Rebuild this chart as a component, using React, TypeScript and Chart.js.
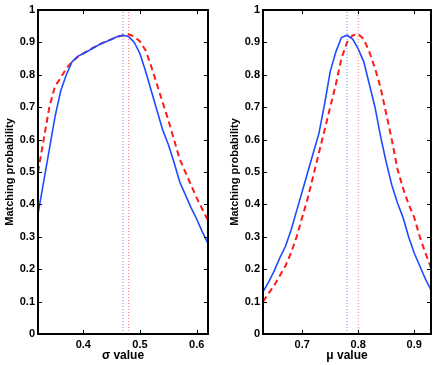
import React, { useEffect, useRef } from "react";
import { Chart, registerables } from "chart.js";
Chart.register(...registerables);

// ---- Data ----
const sigmaValues = [0.32, 0.33, 0.34, 0.35, 0.36, 0.37, 0.38, 0.39, 0.40, 0.41, 0.42, 0.43, 0.44, 0.45, 0.46, 0.47, 0.48, 0.49, 0.50, 0.51, 0.52, 0.53, 0.54, 0.55, 0.56, 0.57, 0.58, 0.59, 0.60, 0.61, 0.62];
const sigmaBlue = [0.37, 0.47, 0.57, 0.67, 0.75, 0.80, 0.84, 0.857, 0.866, 0.875, 0.885, 0.895, 0.902, 0.91, 0.918, 0.922, 0.918, 0.90, 0.865, 0.81, 0.75, 0.69, 0.63, 0.585, 0.53, 0.47, 0.43, 0.39, 0.355, 0.315, 0.28];
const sigmaRed = [0.50, 0.60, 0.70, 0.765, 0.79, 0.82, 0.84, 0.855, 0.866, 0.876, 0.886, 0.895, 0.903, 0.91, 0.917, 0.922, 0.925, 0.918, 0.903, 0.875, 0.825, 0.77, 0.715, 0.66, 0.60, 0.54, 0.50, 0.46, 0.42, 0.385, 0.35];
const sigmaPeakBlue = 0.47;
const sigmaPeakRed = 0.48;

const muValues = [0.63, 0.64, 0.65, 0.66, 0.67, 0.68, 0.69, 0.70, 0.71, 0.72, 0.73, 0.74, 0.75, 0.76, 0.77, 0.78, 0.79, 0.80, 0.81, 0.82, 0.83, 0.84, 0.85, 0.86, 0.87, 0.88, 0.89, 0.90, 0.91, 0.92, 0.93];
const muBlue = [0.13, 0.16, 0.195, 0.235, 0.27, 0.32, 0.38, 0.44, 0.50, 0.56, 0.62, 0.71, 0.81, 0.87, 0.915, 0.922, 0.91, 0.88, 0.84, 0.77, 0.70, 0.61, 0.53, 0.46, 0.405, 0.36, 0.30, 0.25, 0.21, 0.17, 0.135];
const muRed = [0.10, 0.125, 0.15, 0.18, 0.21, 0.25, 0.30, 0.36, 0.42, 0.49, 0.56, 0.63, 0.70, 0.77, 0.85, 0.90, 0.922, 0.926, 0.91, 0.87, 0.82, 0.76, 0.68, 0.60, 0.51, 0.45, 0.40, 0.36, 0.30, 0.25, 0.205];
const muPeakBlue = 0.78;
const muPeakRed = 0.80;

const yTicks = [0, 0.1, 0.2, 0.3, 0.4, 0.5, 0.6, 0.7, 0.8, 0.9, 1];
const sigmaTicks = [0.4, 0.5, 0.6];
const muTicks = [0.7, 0.8, 0.9];
const yTitle = "Matching probability";

const FONT = "'Liberation Sans', Arial, Helvetica, sans-serif";
const BLUE = "#1f4cff";
const RED = "#ff1a1a";

const boxPlugin = {
  id: "matlabBox",
  afterDatasetsDraw(chart: any) {
    const { ctx, chartArea } = chart;
    const { left, right, top, bottom } = chartArea;
    const x = chart.scales.x;
    const y = chart.scales.y;
    const L = 4;
    ctx.save();
    ctx.strokeStyle = "#000";
    ctx.lineWidth = 1;
    ctx.beginPath();
    x.ticks.forEach((t: any) => {
      const px = Math.round(x.getPixelForValue(t.value)) + 0.5;
      ctx.moveTo(px, bottom);
      ctx.lineTo(px, bottom - L);
      ctx.moveTo(px, top);
      ctx.lineTo(px, top + L);
    });
    y.ticks.forEach((t: any) => {
      const py = Math.round(y.getPixelForValue(t.value)) + 0.5;
      ctx.moveTo(left, py);
      ctx.lineTo(left + L, py);
      ctx.moveTo(right, py);
      ctx.lineTo(right - L, py);
    });
    ctx.stroke();
    ctx.lineWidth = 2;
    ctx.strokeRect(left, top, right - left, bottom - top);
    ctx.restore();
  },
};

type PanelProps = {
  xs: number[];
  blue: number[];
  red: number[];
  peakBlue: number;
  peakRed: number;
  xMin: number;
  xMax: number;
  xTicks: number[];
  xTitle: string;
  yAxisWidth: number;
  padRight: number;
  yTitlePad: number;
};

function Panel(p: PanelProps) {
  const ref = useRef<HTMLCanvasElement | null>(null);
  useEffect(() => {
    if (!ref.current) return;
    const toPts = (ys: number[]) => p.xs.map((x, i) => ({ x, y: ys[i] }));
    const chart = new Chart(ref.current, {
      type: "line",
      data: {
        datasets: [
          {
            data: [{ x: p.peakBlue, y: 0 }, { x: p.peakBlue, y: 1 }],
            borderColor: "rgba(60,90,255,0.7)",
            borderWidth: 1,
            borderDash: [1, 2],
            pointRadius: 0,
          },
          {
            data: [{ x: p.peakRed, y: 0 }, { x: p.peakRed, y: 1 }],
            borderColor: "rgba(255,60,60,0.7)",
            borderWidth: 1,
            borderDash: [1, 2],
            pointRadius: 0,
          },
          {
            data: toPts(p.blue),
            borderColor: BLUE,
            borderWidth: 1.6,
            pointRadius: 0,
            tension: 0,
          },
          {
            data: toPts(p.red),
            borderColor: RED,
            borderWidth: 2,
            borderDash: [6, 4],
            pointRadius: 0,
            tension: 0,
          },
        ],
      },
      options: {
        responsive: false,
        animation: false,
        devicePixelRatio: 1,
        layout: { padding: { left: 0, right: p.padRight, top: 10, bottom: 0 } },
        plugins: { legend: { display: false }, tooltip: { enabled: false } },
        scales: {
          x: {
            type: "linear",
            min: p.xMin,
            max: p.xMax,
            grid: { display: false, drawTicks: false },
            border: { display: false },
            afterBuildTicks: (axis: any) => {
              axis.ticks = p.xTicks.map((v) => ({ value: v }));
            },
            afterFit: (axis: any) => {
              axis.height = 31;
            },
            ticks: {
              color: "#000",
              padding: 4,
              maxRotation: 0,
              autoSkip: false,
              font: { family: FONT, size: 11, weight: "bold" },
              callback: (v: any) => Number(v).toFixed(1),
            },
            title: {
              display: true,
              text: p.xTitle,
              color: "#000",
              font: { family: FONT, size: 12, weight: "bold" },
              padding: { top: 0, bottom: 2 },
            },
          },
          y: {
            type: "linear",
            min: 0,
            max: 1,
            grid: { display: false, drawTicks: false },
            border: { display: false },
            afterBuildTicks: (axis: any) => {
              axis.ticks = yTicks.map((v) => ({ value: v }));
            },
            afterFit: (axis: any) => {
              axis.width = p.yAxisWidth;
            },
            ticks: {
              color: "#000",
              padding: 3,
              autoSkip: false,
              font: { family: FONT, size: 11, weight: "bold" },
              callback: (v: any) => String(Number(Number(v).toFixed(1))),
            },
            title: {
              display: true,
              text: yTitle,
              color: "#000",
              font: { family: FONT, size: 11, weight: "bold" },
              padding: { top: p.yTitlePad, bottom: 0 },
            },
          },
        },
      },
      plugins: [boxPlugin],
    } as any);
    return () => chart.destroy();
  }, []);
  return <canvas ref={ref} width={218} height={365} style={{ display: "block" }} />;
}

export default function App() {
  return (
    <div
      style={{
        position: "fixed",
        left: 0,
        top: 0,
        width: 436,
        height: 365,
        display: "flex",
        background: "#fff",
      }}
    >
      <Panel
        xs={sigmaValues}
        blue={sigmaBlue}
        red={sigmaRed}
        peakBlue={sigmaPeakBlue}
        peakRed={sigmaPeakRed}
        xMin={0.32}
        xMax={0.62}
        xTicks={sigmaTicks}
        xTitle="σ value"
        yAxisWidth={38}
        padRight={10}
        yTitlePad={3.5}
      />
      <Panel
        xs={muValues}
        blue={muBlue}
        red={muRed}
        peakBlue={muPeakBlue}
        peakRed={muPeakRed}
        xMin={0.63}
        xMax={0.93}
        xTicks={muTicks}
        xTitle="μ value"
        yAxisWidth={45}
        padRight={5}
        yTitlePad={10.5}
      />
    </div>
  );
}
